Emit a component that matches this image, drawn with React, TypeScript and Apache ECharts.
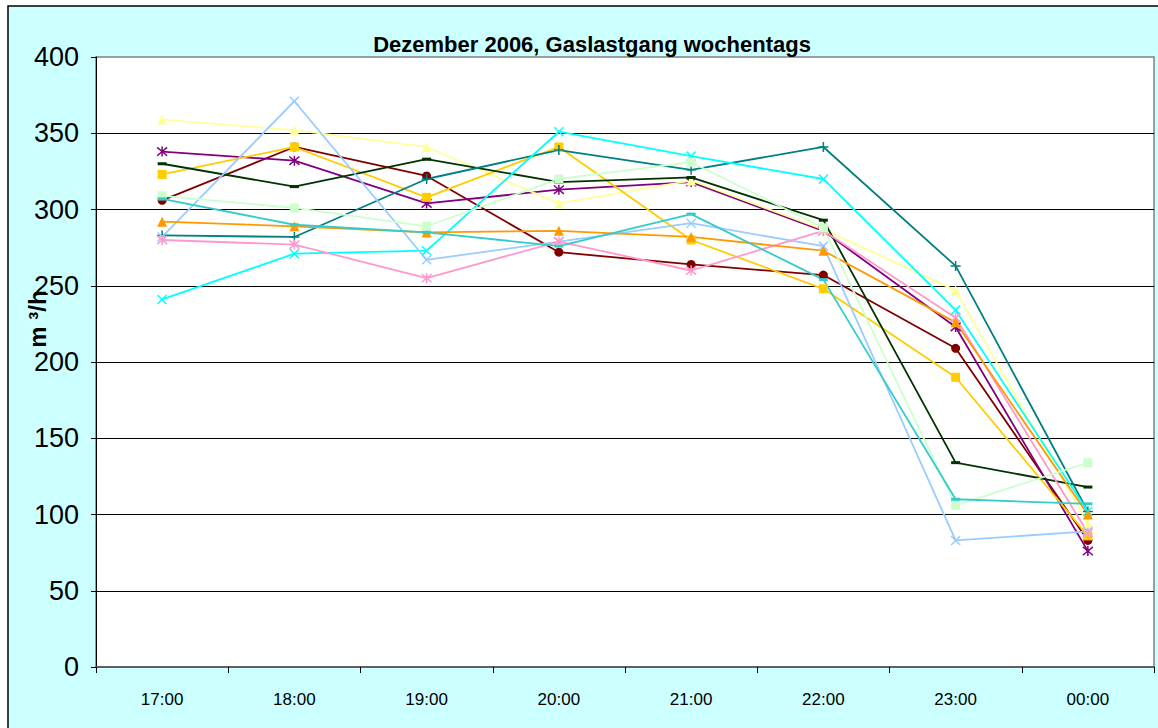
import React, { useEffect, useRef } from "react";
import * as echarts from "echarts";

const categories = ["17:00", "18:00", "19:00", "20:00", "21:00", "22:00", "23:00", "00:00"];
const yTicks = { min: 0, max: 400, interval: 50 };
const titleText = "Dezember 2006, Gaslastgang wochentags";
const yName = "m ³/h";

const darkRed = [306, 341, 322, 272, 264, 257, 209, 83];
const purple = [338, 332, 304, 313, 318, 286, 223, 76];
const lightYellow = [359, 352, 341, 304, 319, 287, 247, 94];
const gold = [323, 341, 308, 341, 280, 248, 190, 86];
const darkGreen = [330, 315, 333, 318, 321, 293, 134, 118];
const teal = [283, 282, 320, 339, 326, 341, 263, 102];
const cyan = [241, 271, 273, 351, 335, 320, 234, 102];
const lightBlue = [282, 371, 267, 279, 291, 276, 83, 89];
const pink = [280, 277, 255, 279, 260, 286, 229, 88];
const orange = [292, 289, 285, 286, 282, 273, 226, 100];
const lightGreen = [309, 301, 289, 320, 331, 288, 106, 134];
const turquoise = [307, 290, 285, 276, 297, 254, 110, 107];

const X_PATH = "path://M0,0L10,10M10,0L0,10";
const PLUS_PATH = "path://M5,0L5,10M0,5L10,5";
const STAR_PATH = "path://M0,0L10,10M10,0L0,10M5,-1L5,11";

const seriesDefs = [
  { name: "A", data: darkRed, color: "#800000", symbol: "circle", size: 9, stroke: false },
  { name: "B", data: purple, color: "#800080", symbol: STAR_PATH, size: 10, stroke: true },
  { name: "C", data: lightYellow, color: "#FFFF99", symbol: "triangle", size: 10, stroke: false },
  { name: "D", data: gold, color: "#FFCC00", symbol: "rect", size: 9, stroke: false },
  { name: "E", data: darkGreen, color: "#003300", symbol: "rect", size: [9, 3], stroke: false },
  { name: "F", data: teal, color: "#008080", symbol: PLUS_PATH, size: 10, stroke: true },
  { name: "G", data: cyan, color: "#00FFFF", symbol: X_PATH, size: 9, stroke: true },
  { name: "H", data: lightBlue, color: "#99CCFF", symbol: X_PATH, size: 9, stroke: true },
  { name: "I", data: pink, color: "#FF99CC", symbol: STAR_PATH, size: 10, stroke: true },
  { name: "J", data: orange, color: "#FF9900", symbol: "triangle", size: 10, stroke: false },
  { name: "K", data: lightGreen, color: "#CCFFCC", symbol: "rect", size: 9, stroke: false },
  { name: "L", data: turquoise, color: "#33CCCC", symbol: "rect", size: [9, 3], stroke: false },
];

const FONT = "'Liberation Sans', Arial, sans-serif";

export default function App() {
  const ref = useRef<HTMLDivElement>(null);
  useEffect(() => {
    if (!ref.current) return;
    const chart = echarts.init(ref.current, null, { renderer: "svg" });
    chart.setOption({
      animation: false,
      backgroundColor: "#ffffff",
      graphic: [
        {
          type: "rect",
          z: -10,
          silent: true,
          shape: { x: 8, y: 6, width: 1160, height: 740 },
          style: { fill: "#CCFFFF", stroke: "#000000", lineWidth: 1.5 },
        },
        {
          type: "text",
          z: 10,
          x: 592,
          y: 44,
          style: {
            text: titleText,
            font: `bold 22px ${FONT}`,
            fill: "#000000",
            textAlign: "center",
            textVerticalAlign: "middle",
          },
        },
        {
          type: "text",
          z: 10,
          x: 37,
          y: 319,
          rotation: Math.PI / 2,
          style: {
            text: yName,
            font: `bold 24px ${FONT}`,
            fill: "#000000",
            textAlign: "center",
            textVerticalAlign: "middle",
          },
        },
      ],
      grid: {
        left: 96,
        top: 57,
        right: 4,
        bottom: 61,
        show: true,
        backgroundColor: "#ffffff",
        borderColor: "#808080",
        borderWidth: 1.5,
      },
      xAxis: {
        type: "category",
        data: categories,
        boundaryGap: true,
        axisLine: { show: true, lineStyle: { color: "#606060", width: 2 } },
        axisTick: { show: true, alignWithLabel: false, length: 6, lineStyle: { color: "#000000" } },
        axisLabel: { color: "#000000", fontFamily: FONT, fontSize: 17, margin: 24 },
        splitLine: { show: false },
      },
      yAxis: {
        type: "value",
        min: yTicks.min,
        max: yTicks.max,
        interval: yTicks.interval,
        axisLine: { show: true, lineStyle: { color: "#000000", width: 1 } },
        axisTick: { show: true, length: 5, lineStyle: { color: "#000000" } },
        axisLabel: { color: "#000000", fontFamily: FONT, fontSize: 27, margin: 17 },
        splitLine: { show: true, showMaxLine: false, showMinLine: false, lineStyle: { color: "#000000", width: 1.2 } },
      },
      series: seriesDefs.map((s) => ({
        type: "line",
        name: s.name,
        data: s.data,
        symbol: s.symbol,
        symbolSize: s.size,
        showSymbol: true,
        showAllSymbol: true,
        lineStyle: { color: s.color, width: 1.8 },
        itemStyle: s.stroke
          ? { color: s.color, borderColor: s.color, borderWidth: 1.5 }
          : { color: s.color, borderWidth: 0 },
        emphasis: { disabled: true },
      })),
    });
    return () => chart.dispose();
  }, []);
  return (
    <div
      ref={ref}
      style={{ position: "fixed", left: 0, top: 0, width: 1158, height: 728 }}
    />
  );
}
